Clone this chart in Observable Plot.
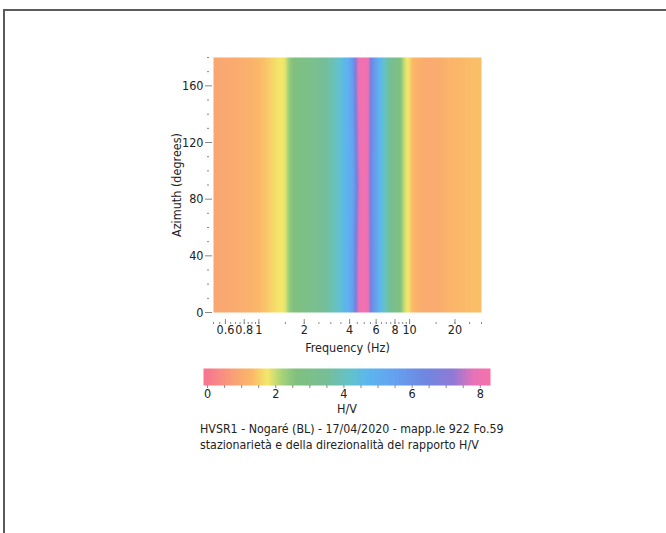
<!DOCTYPE html>
<html>
<head>
<meta charset="utf-8">
<script src="https://cdn.jsdelivr.net/npm/d3@7"></script>
<script src="https://cdn.jsdelivr.net/npm/@observablehq/plot@0.6"></script>
<style>
  html, body { margin: 0; padding: 0; background: #fff; }
  #page { position: relative; width: 666px; height: 533px; overflow: hidden; background: #fff;
          font-family: "DejaVu Sans Condensed", "DejaVu Sans", sans-serif; font-stretch: condensed; color: #222; }
  #page svg { position: absolute; left: 0; font-family: "DejaVu Sans Condensed", "DejaVu Sans", sans-serif; font-stretch: condensed; }
  .border-top { position: absolute; left: 3px; top: 9px; width: 663px; height: 0; border-top: 2px solid #5a5a5a; }
  .border-left { position: absolute; left: 3px; top: 9px; width: 0; height: 524px; border-left: 2px solid #5a5a5a; }
  .caption { position: absolute; left: 200px; font-size: 12.3px; line-height: 15px; white-space: nowrap; color: #222; }
</style>
</head>
<body>
<div id="page">
  <div class="border-top"></div>
  <div class="border-left"></div>
  <div id="main"></div>
  <div id="bar"></div>
  <div class="caption" style="top:422px">HVSR1 - Nogaré (BL) - 17/04/2020 - mapp.le 922 Fo.59</div>
  <div class="caption" style="top:438px">stazionarietà e della direzionalità del rapporto H/V</div>
</div>
<script>
// ---- Data ----
// Frequency samples (Hz) and H/V profile (same for all azimuths outside the peak)
const freqs = [0.5, 0.6, 0.7, 0.8, 0.9, 1.0, 1.1, 1.2, 1.35, 1.5, 1.6, 1.7, 1.9, 2.1, 2.4, 2.7, 3.0, 3.3, 3.6, 3.9,
               4.2, 4.4, 4.6, 4.8, 5.0, 5.2, 5.4, 5.6,
               5.9, 6.2, 6.6, 7.0, 7.5, 8.0, 8.6, 9.2, 9.8, 10.5, 11.5, 13, 15, 18, 22, 26, 30];
const hvProfile = [0.9, 0.95, 1.0, 1.1, 1.2, 1.3, 1.4, 1.55, 1.7, 1.85, 2.4, 2.6, 2.8, 3.0, 3.2, 3.5, 3.8, 4.1, 4.5, 4.9,
                   5.5, 7.0, 7.9, 8.1, 8.1, 8.0, 7.6, 6.3,
                   5.6, 5.0, 4.4, 3.9, 3.4, 3.0, 2.7, 2.0, 1.7, 1.3, 1.1, 1.0, 1.0, 1.2, 1.3, 1.35, 1.35];
// Azimuth rows (degrees) and the peak region, which changes slightly with azimuth
const azimuths = [0, 45, 90, 135, 180];
const peakFreqs = [4.2, 4.4, 4.6, 4.8, 5.0, 5.2, 5.4, 5.6];
const peakHV = [
  [5.6, 6.9, 7.9, 8.1, 8.1, 8.0, 7.6, 6.3],
  [5.5, 6.7, 7.9, 8.1, 8.1, 8.0, 7.5, 6.2],
  [5.3, 6.2, 7.6, 8.1, 8.1, 8.0, 7.4, 6.1],
  [5.5, 6.8, 7.9, 8.1, 8.1, 8.0, 7.5, 6.2],
  [5.8, 7.1, 8.0, 8.1, 8.1, 8.0, 7.6, 6.3]
];
// Tick values
const xTickLabels = [0.6, 0.8, 1, 2, 4, 6, 8, 10, 20];
const xMinorTicks = [0.5, 0.55, 0.6, 0.65, 0.7, 0.75, 0.8, 0.85, 0.9, 0.95, 1, 1.5, 2, 2.5, 3, 3.5, 4, 4.5, 5, 5.5,
                     6, 6.5, 7, 7.5, 8, 8.5, 9, 9.5, 10, 15, 20, 25, 30];
const yTickLabels = [0, 40, 80, 120, 160];
const yMinorTicks = [10, 20, 30, 50, 60, 70, 90, 100, 110, 130, 140, 150, 170, 180];
const barTickLabels = [0, 2, 4, 6, 8];
const barMinorTicks = [0, 0.5, 1, 1.5, 2, 2.5, 3, 3.5, 4, 4.5, 5, 5.5, 6, 6.5, 7, 7.5, 8];
// Colour map (H/V stops and colours)
const colorStops = [0, 0.8, 1.3, 1.75, 2.2, 2.6, 3.5, 4.2, 4.7, 5.5, 6.4, 7.2, 7.8, 8.3];
const colorRange = ["#f7778f", "#f9a274", "#fbb868", "#f4e86a", "#a4d27a", "#80c07e", "#76be98", "#62c2cc",
                    "#5cb6ee", "#66a0f0", "#6e87e0", "#907ad6", "#e872b8", "#f870aa"];

// ---- Build grid table ----
const points = [];
azimuths.forEach((az, r) => {
  freqs.forEach((f, i) => {
    const j = peakFreqs.indexOf(f);
    points.push({f, az, hv: j >= 0 ? peakHV[r][j] : hvProfile[i]});
  });
});

const colorScale = {type: "linear", domain: colorStops, range: colorRange, interpolate: "rgb", clamp: true};
const tickColor = "#888";
const fs = 12.5;

const main = Plot.plot({
  width: 666, height: 362,
  marginLeft: 213, marginRight: 185, marginTop: 57, marginBottom: 50,
  x: {type: "log", domain: [0.5, 30]},
  y: {domain: [0, 180]},
  color: colorScale,
  style: {fontSize: fs + "px", color: "#222", background: "transparent"},
  marks: [
    Plot.raster(points, {x: "f", y: "az", fill: "hv", interpolate: "barycentric", x1: 0.5, x2: 30, y1: 0, y2: 180}),
    Plot.axisX({ticks: xMinorTicks, tickSize: 2, tickFormat: () => "", label: null, stroke: tickColor, dy: 10}),
    Plot.axisX({ticks: xTickLabels, tickSize: 5, tickFormat: () => "", label: null, stroke: tickColor, dy: 7}),
    Plot.text(xTickLabels, {x: d => d, text: d => String(d), frameAnchor: "bottom", dy: 21, fontSize: fs, fill: "#222"}),
    Plot.axisY({ticks: yMinorTicks, tickSize: 2, tickFormat: () => "", label: null, stroke: tickColor, dx: -4}),
    Plot.axisY({ticks: yTickLabels, tickSize: 7, tickPadding: 2, tickFormat: d => String(d), label: null,
                stroke: tickColor, fill: "#222", dx: -1, fontSize: fs}),
    Plot.text(["Frequency (Hz)"], {frameAnchor: "bottom", dy: 39, fontSize: fs, fill: "#222"}),
    Plot.text(["Azimuth (degrees)"], {frameAnchor: "left", textAnchor: "middle", rotate: -90, dx: -37, fontSize: fs, fill: "#222"})
  ]
});
main.style.top = "0px";
document.getElementById("main").appendChild(main);

const bar = Plot.plot({
  width: 666, height: 64,
  marginLeft: 203, marginRight: 176, marginTop: 8, marginBottom: 39,
  x: {domain: [-0.12, 8.3]},
  y: {domain: [0, 1], axis: null},
  color: colorScale,
  style: {fontSize: fs + "px", color: "#222", background: "transparent"},
  marks: [
    Plot.raster({fill: (x, y) => x, x1: -0.12, x2: 8.3, y1: 0, y2: 1}),
    Plot.axisX({ticks: barMinorTicks, tickSize: 3, tickFormat: () => "", label: null, stroke: tickColor}),
    Plot.text(barTickLabels, {x: d => d, text: d => String(d), frameAnchor: "bottom", dy: 12, fontSize: fs, fill: "#222"}),
    Plot.text(["H/V"], {frameAnchor: "bottom", dy: 27, fontSize: fs, fill: "#222"})
  ]
});
bar.style.top = "360px";
document.getElementById("bar").appendChild(bar);
</script>
</body>
</html>
